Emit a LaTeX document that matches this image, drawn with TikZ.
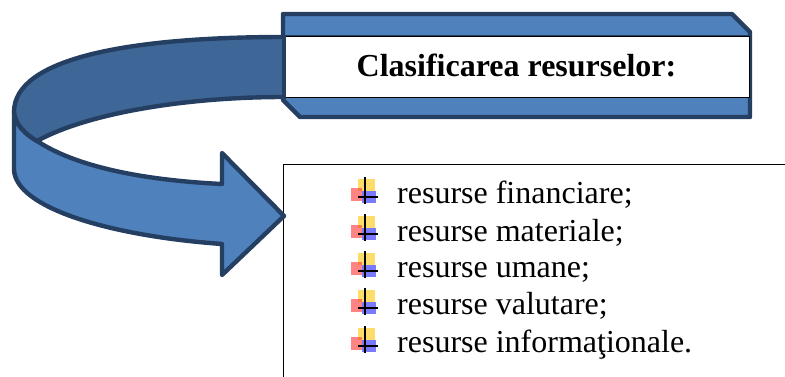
\documentclass[tikz,border=0pt]{standalone}
\usepackage{fontspec}
\setmainfont{Liberation Serif}
\definecolor{bandblue}{HTML}{4F81BD}
\definecolor{banddark}{HTML}{3E6696}
\definecolor{edgeblue}{HTML}{243F62}
\tikzset{
  x=1pt,y=-1pt,
  ribbon/.style={draw=edgeblue,line width=4.4pt,line join=round,fill=bandblue},
  ribbondark/.style={ribbon,fill=banddark},
  listbox/.style={draw=black,line width=0.8pt},
  itemtext/.style={anchor=base west,inner sep=0pt,font=\fontsize{32}{32}\selectfont},
  bullet/.pic={
    \fill[yellow!60!orange,opacity=.6] (-7,-18) rectangle (10,-6);
    \fill[red!80!white,opacity=.6] (-14,-9) rectangle (-3,4);
    \fill[blue!80!white,opacity=.65] (-3,-6) rectangle (11,6);
    \draw[black,line width=1.3pt] (0,-20) -- (0,7) (-7,0) -- (13,0);
  }
}
\begin{document}
\begin{tikzpicture}
\useasboundingbox (0,0) rectangle (785,377);
% title plate
\path[ribbon] (283,14) -- (732,14) -- (750,32) -- (750,117) -- (300,117) -- (283,100) -- cycle;
\node[draw=black,line width=0.8pt,fill=white,minimum width=464pt,minimum height=61pt,inner sep=0pt] (title) at (517,66.5) {};
\draw[edgeblue,line width=1.5pt] (title.north west) -- (title.north east);
\node[inner sep=0pt,font=\bfseries\fontsize{32}{32}\selectfont,anchor=base] (titletext) at (516.5,77) {Clasificarea resurselor:};
% list box
\coordinate (boxtr) at (785,164);
\coordinate (boxtl) at (283,164);
\coordinate (boxbl) at (283,377);
\draw[listbox] (boxtr) -- (boxtl) -- (boxbl);
% curved arrow
\path[ribbon] (14,112) -- (14,170) .. controls (16,208) and (110,236) .. (222,244) -- (222,275) -- (284,216) -- (222,153) -- (222,184) .. controls (140,180) and (75,166) .. (37,141) .. controls (25,134) and (15,124) .. (14,112) -- cycle;
\path[ribbondark] (284,37) .. controls (130,37) and (14,58) .. (14,112) .. controls (15,124) and (25,134) .. (37,141) .. controls (90,112) and (190,97) .. (284,97);
\draw[edgeblue,line width=4.4pt] (284,35) -- (284,99);
% items
\node[itemtext] (i1) at (397,204) {resurse financiare;};
\node[itemtext] (i2) at (397,241) {resurse materiale;};
\node[itemtext] (i3) at (397,277) {resurse umane;};
\node[itemtext] (i4) at (397,314) {resurse valutare;};
\node[itemtext] (i5) at (397,352) {resurse informaţionale.};
\pic at (365,197) {bullet};
\pic at (365,234) {bullet};
\pic at (365,271) {bullet};
\pic at (365,308) {bullet};
\pic at (365,346) {bullet};
\end{tikzpicture}
\end{document}
